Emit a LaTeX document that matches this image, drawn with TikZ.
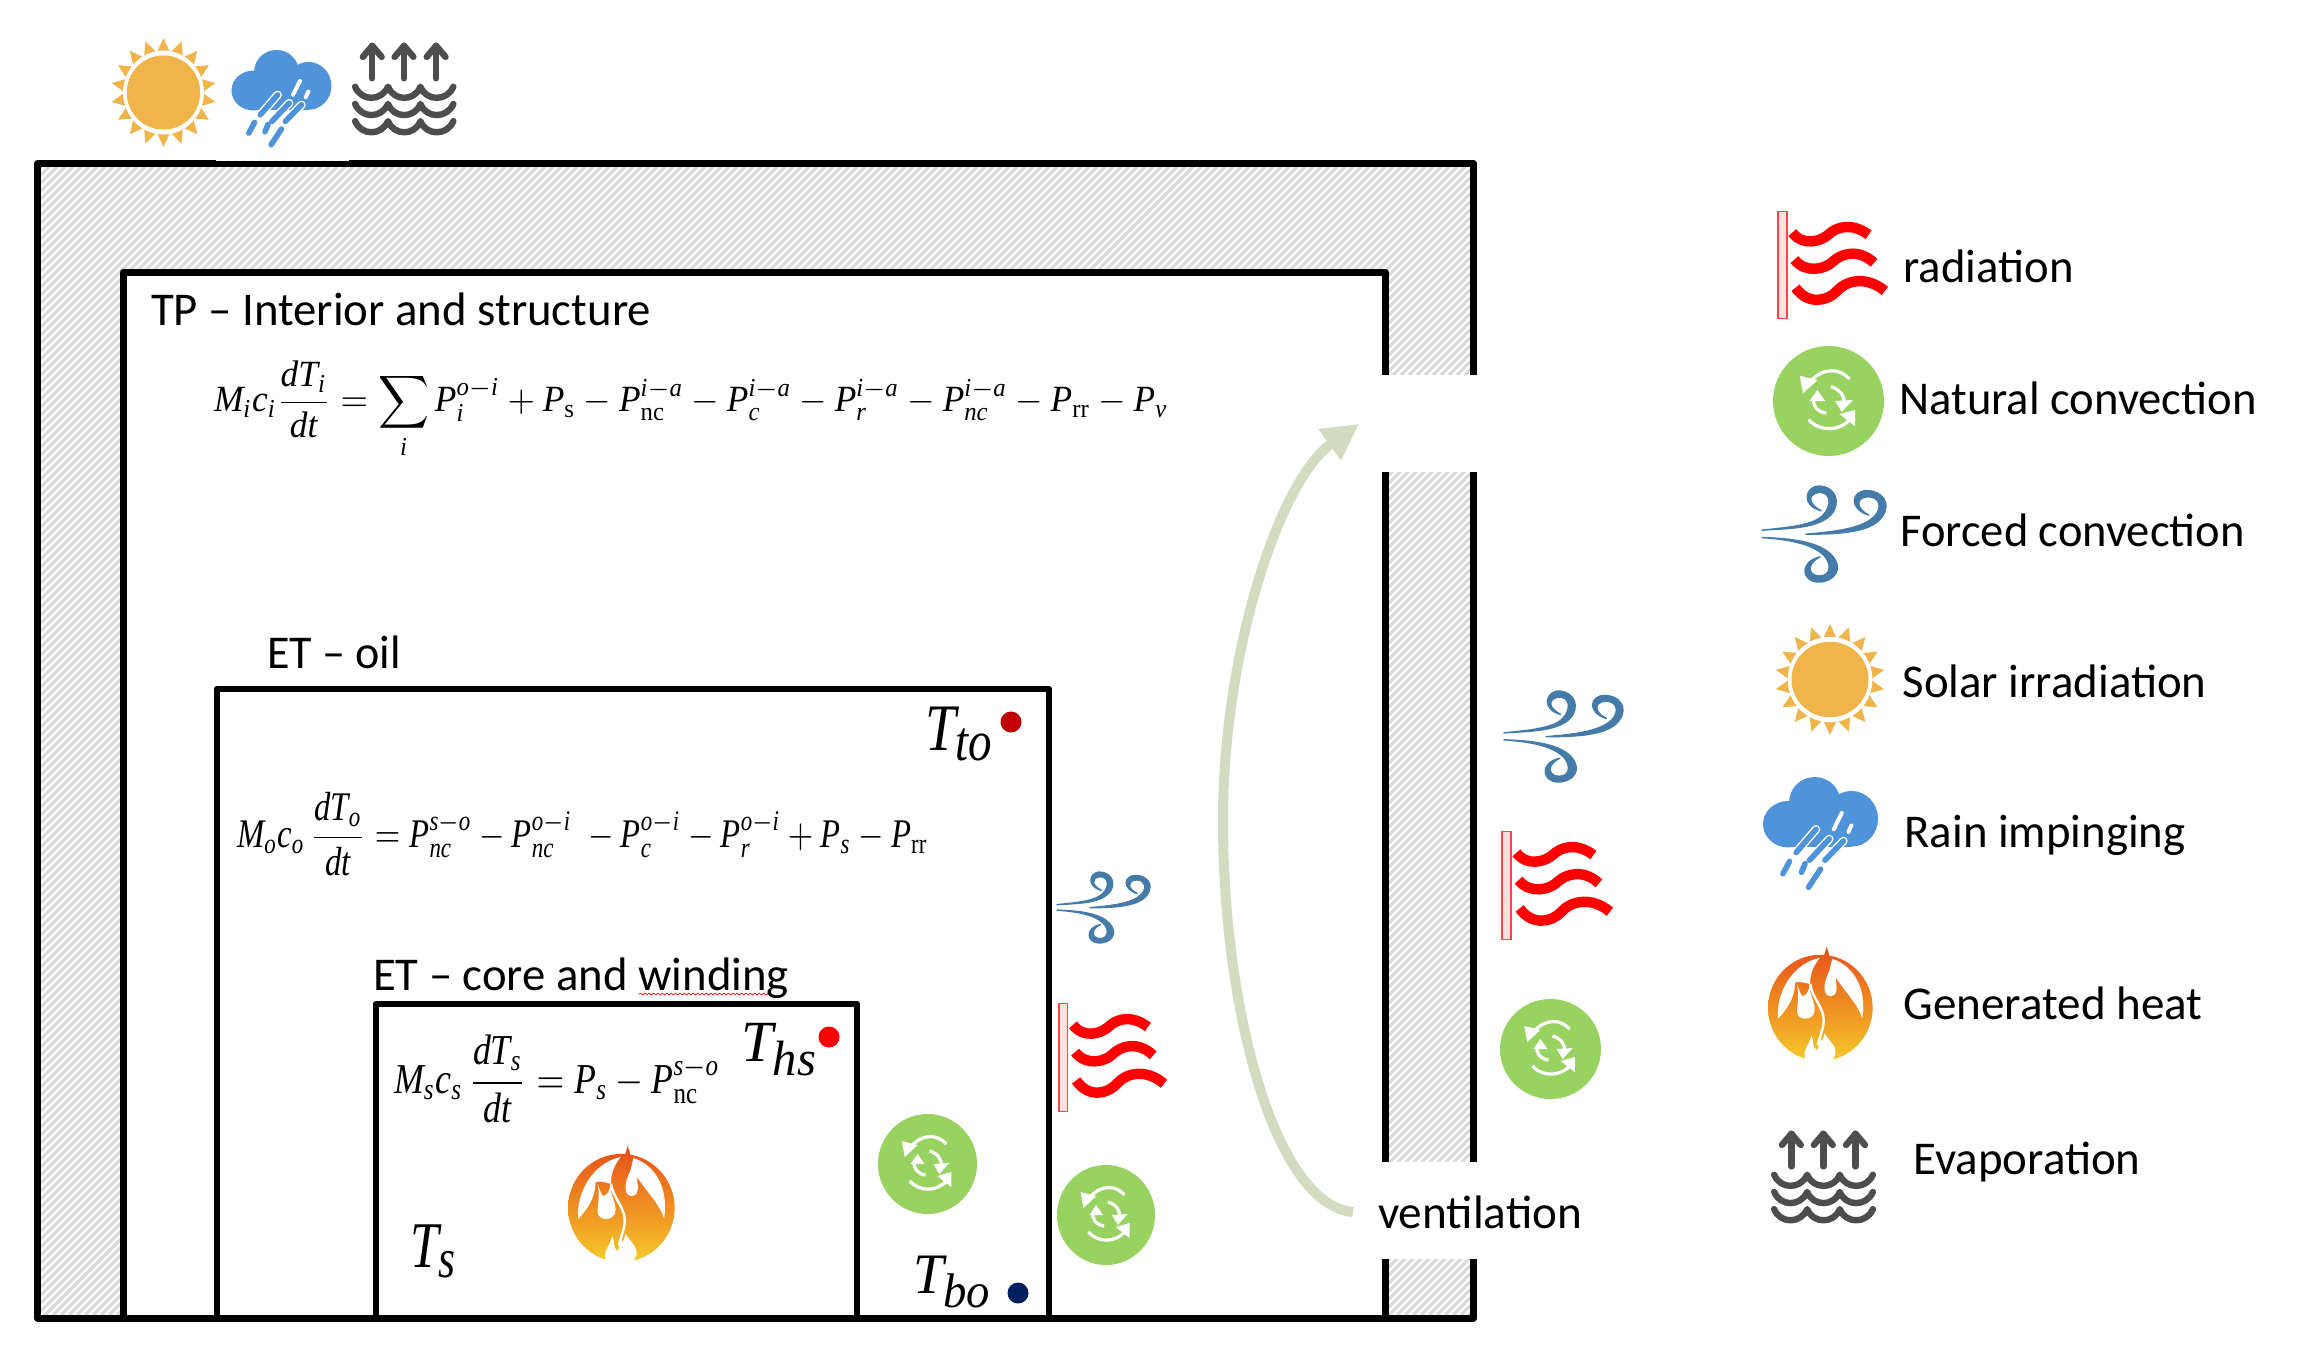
\documentclass[tikz,border=0pt]{standalone}
\usepackage{graphicx}
\usepackage{fontspec}
\setmainfont{Carlito}
\newfontfamily\tnr[NFSSFamily=tnr]{Liberation Serif}
\DeclareMathAlphabet{\mti}{TU}{tnr}{m}{it}
\DeclareMathAlphabet{\mrm}{TU}{tnr}{m}{n}
\usetikzlibrary{arrows.meta,decorations.pathmorphing}
\definecolor{sunc}{HTML}{EFB54B}
\definecolor{rainc}{HTML}{4F94DA}
\definecolor{evapc}{HTML}{4D4D4D}
\definecolor{convc}{HTML}{98D362}
\definecolor{windc}{HTML}{447BA9}
\definecolor{hatchc}{HTML}{D9D9D9}
\definecolor{ventc}{HTML}{D3DCC0}
\tikzset{
  wallbox/.style={draw=black,line width=3.5pt,line join=round},
  innerbox/.style={draw=black,line width=3.3pt,line join=round},
  txt/.style={inner sep=0pt,outer sep=0pt,anchor=base west,font=\fontsize{23.5}{27}\selectfont},
  eqn/.style={inner sep=0pt,outer sep=0pt,anchor=north west},
  tlabel/.style={inner sep=0pt,outer sep=0pt,anchor=north west},
  sensor/.style={circle,inner sep=0pt,minimum size=10.5pt,draw=none},
  wave/.style={draw=red,line width=5.2pt,line cap=butt},
}
\newcommand{\vv}[1]{\mti{#1}}
\newcommand{\tsub}[1]{\scalebox{0.85}{$\vv{#1}$}}
\newcommand{\sunicon}[4]{\begin{scope}[shift={(#1,#2)},xscale=#3/100,yscale=#4/100]
  \foreach \a in {10,30,...,350}{
    \pgfmathsetmacro{\ax}{50+50*cos(\a)}\pgfmathsetmacro{\ay}{50+50*sin(\a)}
    \pgfmathsetmacro{\bx}{50+38*cos(\a-9)}\pgfmathsetmacro{\by}{50+38*sin(\a-9)}
    \pgfmathsetmacro{\cx}{50+38*cos(\a+9)}\pgfmathsetmacro{\cy}{50+38*sin(\a+9)}
    \fill[sunc] (\ax,\ay) -- (\bx,\by) -- (\cx,\cy) -- cycle;
  }
  \fill[white] (50,50) ellipse[x radius=38.5,y radius=38.5];
  \fill[sunc] (50,50) ellipse[x radius=35,y radius=34];
\end{scope}}
\newcommand{\rainicon}[4]{\begin{scope}[shift={(#1,#2)},xscale=#3/260,yscale=#4/292]
  \fill[rainc] (57,122) ellipse[x radius=57,y radius=60];
  \fill[rainc] (117,65) ellipse[x radius=58,y radius=65];
  \fill[rainc] (200,108) ellipse[x radius=60,y radius=72];
  \fill[rainc] (57,90) rectangle (200,180);
  \draw[white,line width=2pt,line cap=round] (178,93) -- (160,135);
  \draw[white,line width=2pt,line cap=round] (200,125) -- (193,142);
  \foreach \p/\q in {{120,135}/{75,195},{150,160}/{105,215},{182,165}/{140,215}}{
    \draw[white,line width=4.2pt,line cap=round] (\p) -- (\q);
    \draw[rainc,line width=2.8pt,line cap=round] (\p) -- (\q);
  }
  \foreach \p/\q in {{60,218}/{45,250},{95,224}/{87,246},{130,238}/{103,285}}{
    \draw[rainc,line width=2.8pt,line cap=round] (\p) -- (\q);
  }
\end{scope}}
\newcommand{\evapicon}[4]{\begin{scope}[shift={(#1,#2)},xscale=#3/100,yscale=#4/100]
  \foreach \x in {19.4,49.8,80.5}{
    \draw[evapc,line width=3.2pt,line cap=round,line join=round] (\x,38) -- (\x,3);
    \draw[evapc,line width=3.2pt,line cap=round,line join=round] (\x-9,15) -- (\x,3) -- (\x+9,15);
  }
  \foreach \y in {47,65.5,84}{
    \draw[evapc,line width=3.2pt,line cap=round,line join=round] (3,\y) .. controls (9,\y+16) and (28,\y+16) .. (34.5,\y)
      .. controls (40,\y+16) and (60,\y+16) .. (65.5,\y) .. controls (71,\y+16) and (91,\y+16) .. (97,\y);
  }
\end{scope}}
\newcommand{\convicon}[4]{\begin{scope}[shift={(#1,#2)},xscale=#3/100,yscale=#4/100]
  \fill[convc] (50,50) ellipse[x radius=50,y radius=50];
  \draw[white,line width=1.6pt] (69,30) .. controls (60,20) and (45,19) .. (33,33);
  \fill[white] (24,27) -- (40,31) -- (27,43) -- cycle;
  \draw[white,line width=1.6pt] (32,67) .. controls (42,78) and (60,78) .. (70,66);
  \fill[white] (74,58) -- (74,73) -- (60,62) -- cycle;
  \draw[white,line width=1.6pt] (52,37) .. controls (60,39) and (65,46) .. (64,52);
  \fill[white] (56,50) -- (72,49) -- (62,60) -- cycle;
  \draw[white,line width=1.6pt] (48,61) .. controls (40,60) and (35,54) .. (37,47);
  \fill[white] (33,50) -- (47,50) -- (40,40) -- cycle;
\end{scope}}
\newcommand{\radicon}[4]{\begin{scope}[shift={(#1,#2)},xscale=#3/100,yscale=#4/100]
  \draw[draw={rgb,255:red,255;green,70;blue,70},fill={rgb,255:red,255;green,225;blue,225},line width=.9pt] (0.8,0.5) rectangle (8.8,99.5);
  \draw[wave] (14,20) .. controls (24,33) and (40,28) .. (47,22) .. controls (54,15) and (68,10) .. (84,22);
  \draw[wave] (16,45) .. controls (26,58) and (44,54) .. (51,47) .. controls (58,40) and (74,34) .. (89,48);
  \draw[wave] (17,71) .. controls (28,87) and (46,84) .. (55,74) .. controls (64,64) and (82,60) .. (99,74);
\end{scope}}
\newcommand{\windicon}[4]{\begin{scope}[shift={(#1,#2)},xscale=#3/325,yscale=#4/287]
  \begin{scope}[shift={(-110,-918)}]
  \filldraw[windc,line width=.7pt,line join=round] (110,1050) .. controls (180,1045) and (255,1045) .. (290,1005)
    .. controls (318,970) and (305,920) .. (258,918)
    .. controls (225,920) and (210,975) .. (265,992)
    .. controls (235,975) and (225,945) .. (258,937)
    .. controls (290,935) and (295,975) .. (270,1005)
    .. controls (245,1035) and (180,1042) .. (110,1050) -- cycle;
  \filldraw[windc,line width=.7pt,line join=round] (225,1062) .. controls (300,1062) and (395,1060) .. (425,1010)
    .. controls (450,970) and (425,932) .. (385,932)
    .. controls (345,932) and (335,985) .. (390,1005)
    .. controls (355,985) and (355,952) .. (388,950)
    .. controls (420,950) and (425,985) .. (405,1008)
    .. controls (375,1045) and (300,1055) .. (225,1062) -- cycle;
  \filldraw[windc,line width=.7pt,line join=round] (110,1072) .. controls (190,1075) and (260,1085) .. (293,1125)
    .. controls (325,1165) and (300,1205) .. (258,1205)
    .. controls (215,1205) and (205,1145) .. (262,1130)
    .. controls (225,1150) and (230,1188) .. (262,1187)
    .. controls (292,1185) and (292,1150) .. (272,1125)
    .. controls (240,1090) and (180,1078) .. (110,1072) -- cycle;
  \end{scope}
\end{scope}}
\newcommand{\flameicon}[4]{\begin{scope}[shift={(#1,#2)},xscale=#3/315,yscale=#4/337]
  \begin{scope}[shift={(-25,-20)}]
  \shade[top color={rgb,255:red,232;green,78;blue,24},middle color={rgb,255:red,233;green,130;blue,32},bottom color={rgb,255:red,245;green,202;blue,43}]
    (182,200) ellipse[x radius=157,y radius=157]
    (200,20) .. controls (210,40) and (214,60) .. (205,100) -- (160,100) .. controls (165,70) and (195,60) .. (200,20) -- cycle;
  \fill[white] (55,232) .. controls (48,160) and (95,70) .. (180,52) .. controls (162,75) and (150,100) .. (152,130)
     .. controls (135,125) and (112,120) .. (106,126) .. controls (105,170) and (85,200) .. (55,232) -- cycle;
  \fill[white] (112,130) .. controls (120,170) and (112,190) .. (112,210) .. controls (112,240) and (165,240) .. (165,205)
     .. controls (165,180) and (150,165) .. (150,130) .. controls (148,150) and (140,165) .. (128,165) .. controls (122,160) and (118,145) .. (112,130) -- cycle;
  \draw[white,line width=1.2pt] (152,130) .. controls (156,170) and (195,200) .. (192,240) .. controls (190,270) and (180,280) .. (175,310);
  \fill[white] (218,55) .. controls (280,75) and (322,140) .. (308,230) .. controls (295,190) and (255,150) .. (228,110)
     .. controls (228,125) and (240,165) .. (212,165) .. controls (190,165) and (190,130) .. (205,100) .. controls (214,80) and (214,65) .. (218,55) -- cycle;
  \fill[white] (138,357) .. controls (125,325) and (150,310) .. (155,282) .. controls (165,300) and (155,312) .. (170,325)
     .. controls (180,320) and (175,300) .. (182,285) .. controls (185,300) and (185,310) .. (195,275)
     .. controls (205,295) and (230,310) .. (227,335) .. controls (225,345) and (220,352) .. (215,357) -- cycle;
  \end{scope}
\end{scope}}
\begin{document}
\begin{tikzpicture}[x=0.5pt,y=-0.5pt]
\useasboundingbox (0,0) rectangle (2318,1360);
\fill[white] (0,0) rectangle (2318,1360);
% hatched wall
\begin{scope}
  \clip (37.5,163.5) rectangle (1473.5,1318);
  \foreach \i in {0,1,...,325}{
    \draw[hatchc,line width=1.5pt] (30+8*\i,1330) -- (30+8*\i+1180,150);
    \draw[hatchc,line width=1.5pt] (30-8*\i,1330) -- (30-8*\i+1180,150);
  }
\end{scope}
\draw[wallbox] (37.5,163.5) rectangle (1473.5,1318);
\fill[white] (123,272.5) rectangle (1385.5,1318);
\draw[wallbox] (123,272.5) rectangle (1385.5,1318);
\draw[innerbox] (217,689) rectangle (1049,1318);
\draw[innerbox] (376,1004) rectangle (857,1318);
\draw[wallbox] (37.5,1318) -- (1473.5,1318);
% openings
\fill[white] (1378,375) rectangle (1482,472);
\fill[white] (1378,1162) rectangle (1482,1259);
\fill[white] (216,158) rectangle (349,161);
% titles
\node[txt] (tp) at (151,325.5) {\resizebox{250pt}{\height}{TP – Interior and structure}};
\node[txt] (eto) at (267,668.5) {\resizebox{67pt}{\height}{ET – oil}};
\node[txt] (etc) at (373,990.5) {\resizebox{208pt}{\height}{ET – core and winding}};
\coordinate (wavyL) at (639,994);
\coordinate (wavyR) at (768,994);
\draw[red,line width=.35pt,decorate,decoration={snake,amplitude=.45pt,segment length=2.2pt}] (wavyL) -- (wavyR);
% equations
\node[eqn] (eqi) at (214,361) {\resizebox*{477pt}{49pt}{$\displaystyle \vv{M}_{\vv{i}}\vv{c}_{\vv{i}}\frac{\vv{dT}_{\vv{i}}}{\vv{dt}}=\sum_{\vv{i}}\vv{P}_{\vv{i}}^{\vv{o}-\vv{i}}+\vv{P}_{\mrm{s}}-\vv{P}_{\mrm{nc}}^{\vv{i}-\vv{a}}-\vv{P}_{\vv{c}}^{\vv{i}-\vv{a}}-\vv{P}_{\vv{r}}^{\vv{i}-\vv{a}}-\vv{P}_{\vv{nc}}^{\vv{i}-\vv{a}}-\vv{P}_{\mrm{rr}}-\vv{P}_{\vv{v}}$}};
\node[eqn] (eqo) at (237,792) {\resizebox*{345.5pt}{42pt}{$\displaystyle \vv{M}_{\vv{o}}\vv{c}_{\vv{o}}\,\frac{\vv{dT}_{\vv{o}}}{\vv{dt}}=\vv{P}_{\vv{nc}}^{\vv{s}-\vv{o}}-\vv{P}_{\vv{nc}}^{\vv{o}-\vv{i}}\;-\vv{P}_{\vv{c}}^{\vv{o}-\vv{i}}-\vv{P}_{\vv{r}}^{\vv{o}-\vv{i}}+\vv{P}_{\vv{s}}-\vv{P}_{\mrm{rr}}$}};
\node[eqn] (eqs) at (394,1035) {\resizebox*{163pt}{44pt}{$\displaystyle \vv{M}_{\vv{s}}\vv{c}_{\vv{s}}\,\frac{\vv{dT}_{\vv{s}}}{\vv{dt}}=\vv{P}_{\vv{s}}-\vv{P}_{\mrm{nc}}^{\vv{s}-\vv{o}}$}};
% temperatures
\node[tlabel] (tto) at (925,707) {\resizebox*{35pt}{27pt}{$\vv{T}_{\tsub{to}}$}};
\node[tlabel] (ths) at (741,1023) {\resizebox*{39pt}{26.5pt}{$\vv{T}_{\tsub{hs}}$}};
\node[tlabel] (tss) at (410,1225) {\resizebox*{24pt}{26.5pt}{$\vv{T}_{\tsub{s}}$}};
\node[tlabel] (tbo) at (913,1256) {\resizebox*{40pt}{26pt}{$\vv{T}_{\tsub{bo}}$}};
\node[sensor,fill={rgb,255:red,192;green,0;blue,0}] (dto) at (1011,722) {};
\node[sensor,fill=red] (dhs) at (829,1037) {};
\node[sensor,fill={rgb,255:red,0;green,32;blue,96}] (dbo) at (1018,1293) {};
% ventilation
\node[txt] (vent) at (1378,1228.5) {\resizebox{102pt}{\height}{ventilation}};
\coordinate (ventA) at (1353,1212);
\coordinate (ventB) at (1359,424);
\draw[ventc,line width=5pt,-{Triangle[length=18pt,width=18pt]}] (ventA) .. controls (1275,1205) and (1223,1010) .. (1223,821) .. controls (1223,650) and (1280,480) .. (ventB);
% top icons
\sunicon{111}{38}{105}{109}
\rainicon{231.5}{50}{100}{97}
\evapicon{352}{43}{104.5}{93}
% icons inside
\flameicon{568}{1146}{107}{116}
\convicon{878}{1114}{99}{100}
\convicon{1057}{1165}{98}{100}
\radicon{1058}{1003}{107}{109}
\windicon{1057}{872}{93}{71}
\windicon{1504}{691}{119}{91}
\radicon{1501}{831}{110}{109}
\convicon{1500}{999}{101}{100}
% legend
\radicon{1777}{211}{109}{108}
\convicon{1773}{346}{111}{110}
\windicon{1762}{486}{124}{96}
\sunicon{1775}{624}{110}{111}
\rainicon{1763}{777}{115}{113}
\flameicon{1768}{947}{105}{114}
\evapicon{1771}{1131}{105}{93}
\node[txt] (l1) at (1903.5,282.5) {\resizebox{85pt}{\height}{radiation}};
\node[txt] (l2) at (1899.5,414.5) {\resizebox{178.5pt}{\height}{Natural convection}};
\node[txt] (l3) at (1900.5,546.5) {\resizebox{172pt}{\height}{Forced convection}};
\node[txt] (l4) at (1902.5,697.5) {\resizebox{152pt}{\height}{Solar irradiation}};
\node[txt] (l5) at (1904.5,847.5) {\resizebox{140.5pt}{\height}{Rain impinging}};
\node[txt] (l6) at (1903.5,1019.5) {\resizebox{149.5pt}{\height}{Generated heat}};
\node[txt] (l7) at (1913.5,1174.5) {\resizebox{113.5pt}{\height}{Evaporation}};
\end{tikzpicture}
\end{document}
